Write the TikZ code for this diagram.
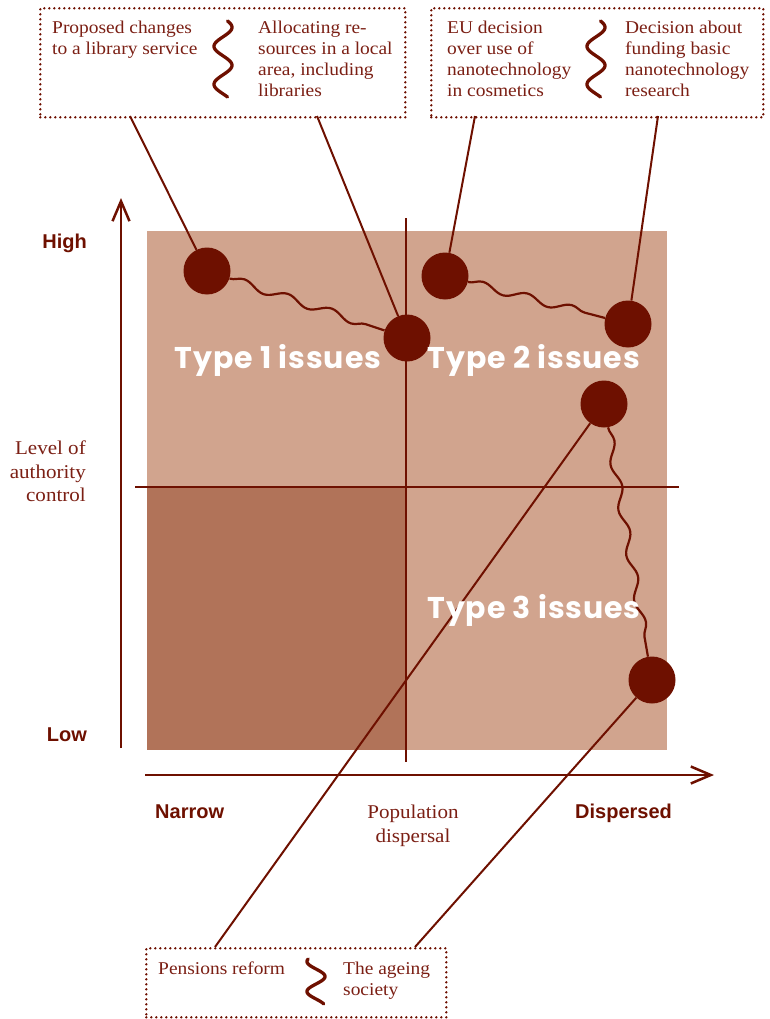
\documentclass[tikz,border=0pt]{standalone}
\usepackage{fontspec}
\setmainfont{Liberation Serif}[FakeStretch=1.08]
\newfontfamily\lsans{Liberation Sans}
\newfontfamily\typefont{Poppins}[LetterSpace=3]
\usetikzlibrary{decorations.pathmorphing,arrows.meta}
\definecolor{dred}{HTML}{6E1000}
\definecolor{tred}{HTML}{7B1F14}
\definecolor{lightsq}{HTML}{D1A48E}
\definecolor{darksq}{HTML}{B17359}
\pgfdeclarelayer{bg}
\pgfdeclarelayer{mid}
\pgfdeclarelayer{fg}
\pgfsetlayers{bg,mid,main,fg}
\begin{document}
\begin{tikzpicture}[x=1pt,y=-1pt,
  boxtext/.style={text=tred, align=left, anchor=north west, inner sep=0pt, font=\fontsize{18}{21}\selectfont},
  sertext/.style={text=tred, inner sep=0pt, font=\fontsize{19.5}{23.5}\selectfont},
  axlab/.style={text=dred, inner sep=0pt, font=\lsans\bfseries\fontsize{20}{22}\selectfont},
  typelab/.style={text=white, inner sep=0pt, font=\typefont\bfseries\fontsize{30}{34}\selectfont},
  dotbox/.style={draw=dred, line width=2.6pt, dash pattern=on 0pt off 5pt, line cap=round, rectangle, inner sep=0pt, anchor=north west},
  dot/.style={circle, fill=dred, minimum size=47pt, inner sep=0pt},
  conn/.style={draw=dred, line width=2pt},
  wavy/.style={draw=dred, line width=2.2pt, decorate, decoration={snake, segment length=46pt, amplitude=4pt}},
  squig/.style={draw=dred, line width=3.3pt, line cap=round},
  axis/.style={draw=dred, line width=2.5pt, -{Straight Barb[length=20pt,width=17pt,line width=2.5pt]}},
  divider/.style={draw=dred, line width=2pt},
]
\useasboundingbox (0,0) rectangle (769,1019);

% squares
\begin{pgfonlayer}{bg}
\fill[lightsq] (147,231) rectangle (667,750);
\fill[darksq] (147,487) rectangle (406,750);
\coordinate (vd1) at (406,218);
\coordinate (vd2) at (406,762);
\coordinate (hd1) at (135,487);
\coordinate (hd2) at (679,487);
\draw[divider] (vd1) -- (vd2);
\draw[divider] (hd1) -- (hd2);
\end{pgfonlayer}

% axes
\coordinate (ya0) at (121,748);
\coordinate (ya1) at (121,198);
\coordinate (xa0) at (145,775);
\coordinate (xa1) at (714,775);
\draw[axis] (ya0) -- (ya1);
\draw[axis] (xa0) -- (xa1);

% boxes
\node[dotbox, minimum width=365pt, minimum height=109pt] (box1) at (39,7) {};
\node[dotbox, minimum width=332pt, minimum height=109pt] (box2) at (430,7) {};
\node[dotbox, minimum width=300pt, minimum height=69pt] (box3) at (145,947) {};

\node[boxtext] (b1l) at (52,21) {Proposed changes\\to a library service};
\node[boxtext] (b1r) at (258,21) {Allocating re-\\sources in a local\\area, including\\libraries};
\node[boxtext] (b2l) at (447,21) {EU decision\\over use of\\nanotechnology\\in cosmetics};
\node[boxtext] (b2r) at (625,21) {Decision about\\funding basic\\nanotechnology\\research};
\node[boxtext] (b3l) at (158,962) {Pensions reform};
\node[boxtext] (b3r) at (343,962) {The ageing\\society};

% squiggles
\draw[squig] plot[domain=0:720, samples=90, variable=\t] ({223+9*sin(\t+30)}, {21+76*(\t/720)});
\draw[squig] plot[domain=0:720, samples=90, variable=\t] ({596+9*sin(\t+30)}, {21+76*(\t/720)});
\draw[squig] plot[domain=0:540, samples=70, variable=\t] ({316-9*sin(\t+60)}, {959+45*(\t/540)});

% circles
\node[dot] (c1) at (207,271) {};
\node[dot] (c2) at (407,338) {};
\node[dot] (c3) at (445,276) {};
\node[dot] (c4) at (628,324) {};
\node[dot] (c5) at (604,404) {};
\node[dot] (c6) at (652,680) {};

% connector anchors on boxes
\coordinate (p1) at (130,116);
\coordinate (p2) at (317,116);
\coordinate (p3) at (475,116);
\coordinate (p4) at (658,116);
\coordinate (p5) at (215,947);
\coordinate (p6) at (415,947);

\begin{pgfonlayer}{mid}
\draw[conn] (p1) -- (c1);
\draw[conn] (p2) -- (c2);
\draw[conn] (p3) -- (c3);
\draw[conn] (p4) -- (c4);
\draw[conn] (p5) -- (c5);
\draw[conn] (p6) -- (c6);
\draw[wavy] (c1) -- (c2);
\draw[wavy] (c3) -- (c4);
\draw[wavy] (c5) -- (c6);
\end{pgfonlayer}

% axis labels
\node[axlab, anchor=base east] (high) at (87,248) {High};
\node[axlab, anchor=base east] (low) at (87,741) {Low};
\node[axlab, anchor=base west] (narrow) at (155,818) {Narrow};
\node[axlab, anchor=base west] (disp) at (575,818) {Dispersed};
\node[sertext, align=center, anchor=north] (popd) at (413,805) {Population\\dispersal};
\node[sertext, align=right, anchor=north east] (lev) at (86,441) {Level of\\authority\\control};

% type labels
\begin{pgfonlayer}{fg}
\node[typelab, anchor=base] (t1) at (278,368) {Type 1 issues};
\node[typelab, anchor=base] (t2) at (534,368) {Type 2 issues};
\node[typelab, anchor=base] (t3) at (534,618) {Type 3 issues};
\end{pgfonlayer}
\end{tikzpicture}
\end{document}
